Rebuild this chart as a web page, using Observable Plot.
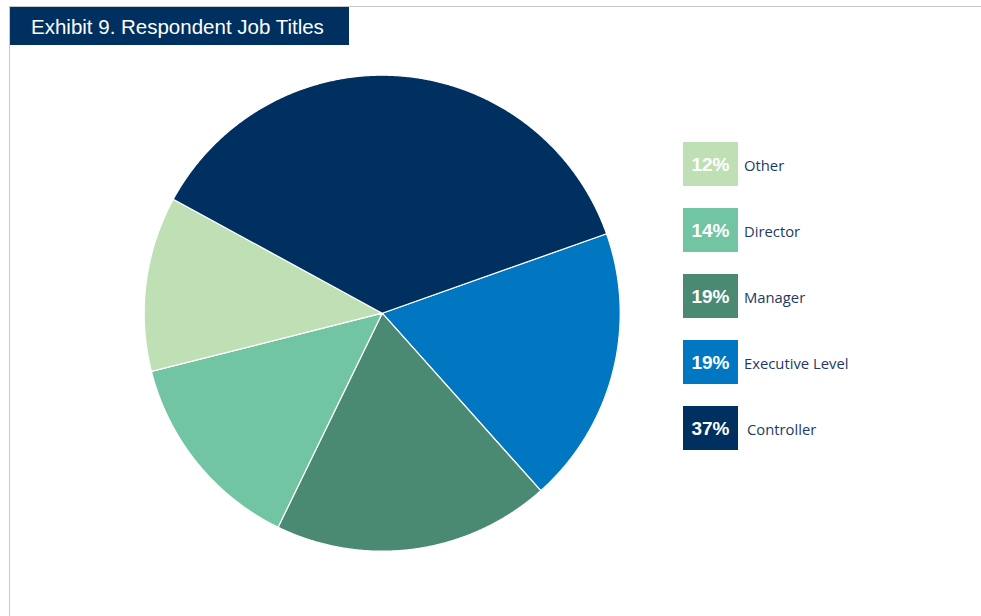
<!DOCTYPE html>
<html>
<head>
<meta charset="utf-8">
<script src="https://cdn.jsdelivr.net/npm/d3@7"></script>
<script src="https://cdn.jsdelivr.net/npm/@observablehq/plot@0.6"></script>
<style>
  html, body { margin: 0; padding: 0; background: #fff; width: 981px; height: 616px; overflow: hidden; }
  #frame { position: absolute; left: 9px; top: 6px; width: 975px; height: 620px; border-top: 1px solid #c8c8c8; border-left: 1px solid #c8c8c8; }
  #title { position: absolute; left: 10px; top: 7px; width: 339px; height: 38px; background: #00305f; color: #fff;
    font-family: "Liberation Sans", Arial, sans-serif; font-size: 20.5px; line-height: 40px; box-sizing: border-box; padding-left: 21px; }
  #chart { position: absolute; left: 0; top: 0; }
  #legend { position: absolute; left: 683px; top: 142px; font-family: "Open Sans", "Liberation Sans", sans-serif; }
  .row { display: flex; align-items: center; height: 44px; margin-bottom: 22px; }
  .sw { width: 55px; height: 44px; color: #fff; font-family: "Liberation Sans", Arial, sans-serif; font-weight: bold; font-size: 19px;
    display: flex; align-items: center; justify-content: center; padding-top: 1px; box-sizing: border-box; }
  .lab { margin-left: 6px; color: #1d3a63; font-size: 14.8px; padding-top: 2px; }
</style>
</head>
<body>
<div id="frame"></div>
<div id="chart"></div>
<div id="title">Exhibit 9. Respondent Job Titles</div>
<div id="legend"></div>
<script>
// Data (clockwise order from the Controller/Executive boundary)
const categories = ["Executive Level", "Manager", "Director", "Other", "Controller"];
const values = [19, 19, 14, 12, 37];
const colors = ["#0077c0", "#4a8a73", "#71c5a2", "#bfdfb5", "#00305f"];
const legendOrder = ["Other", "Director", "Manager", "Executive Level", "Controller"];

const startAngle = 70.5 * Math.PI / 180;
const pie = d3.pie().sort(null).value(d => d.value).startAngle(startAngle).endAngle(startAngle + 2 * Math.PI);
const arcs = pie(categories.map((name, i) => ({name, value: values[i]})));

const pts = [];
const step = 0.25 * Math.PI / 180;
for (const a of arcs) {
  const name = a.data.name;
  pts.push({name, x: 0, y: 0});
  const n = Math.max(2, Math.ceil((a.endAngle - a.startAngle) / step));
  for (let k = 0; k <= n; k++) {
    const t = a.startAngle + (a.endAngle - a.startAngle) * k / n;
    pts.push({name, x: Math.sin(t), y: Math.cos(t)});
  }
}

const cx = 381.7, cy = 312.7, r = 238;
const plot = Plot.plot({
  width: 981,
  height: 616,
  margin: 0,
  x: {domain: [-1, 1], range: [cx - r, cx + r], axis: null},
  y: {domain: [-1, 1], range: [cy + r, cy - r], axis: null},
  color: {domain: categories, range: colors},
  style: {background: "transparent", overflow: "visible"},
  marks: [
    Plot.line(pts, {x: "x", y: "y", z: "name", fill: "name", stroke: "#ffffff", strokeWidth: 1.2, curve: "linear-closed", strokeLinejoin: "round"})
  ]
});
document.getElementById("chart").appendChild(plot);

const legend = document.getElementById("legend");
for (const name of legendOrder) {
  const i = categories.indexOf(name);
  const row = document.createElement("div");
  row.className = "row";
  const sw = document.createElement("div");
  sw.className = "sw";
  sw.style.background = colors[i];
  sw.textContent = values[i] + "%";
  const lab = document.createElement("div");
  lab.className = "lab";
  lab.textContent = name;
  if (name === "Controller") lab.style.marginLeft = "9px";
  row.appendChild(sw);
  row.appendChild(lab);
  legend.appendChild(row);
}
</script>
</body>
</html>
